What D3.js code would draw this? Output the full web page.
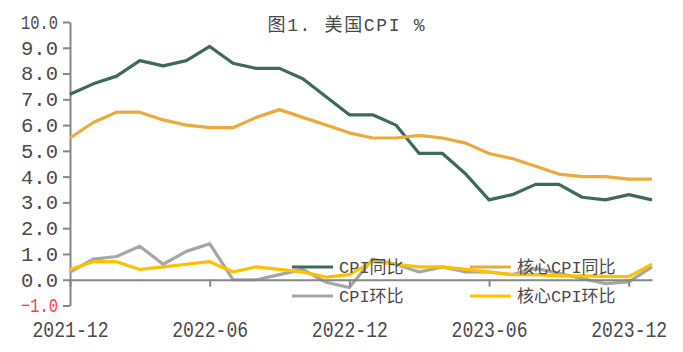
<!DOCTYPE html>
<html><head><meta charset="utf-8">
<script src="https://cdn.jsdelivr.net/npm/d3@7"></script>
<style>body{margin:0;background:#fff}</style>
</head><body>
<svg id="c" width="683" height="352"></svg>
<script>
const months = ["2021-12","2022-01","2022-02","2022-03","2022-04","2022-05","2022-06","2022-07","2022-08","2022-09","2022-10","2022-11","2022-12",
                "2023-01","2023-02","2023-03","2023-04","2023-05","2023-06","2023-07","2023-08","2023-09","2023-10","2023-11","2023-12","2024-01"];
const cpiYoY  = [7.2,7.6,7.9,8.5,8.3,8.5,9.05,8.4,8.2,8.2,7.8,7.1,6.4,6.4,6.0,4.9,4.9,4.1,3.1,3.3,3.7,3.7,3.2,3.1,3.3,3.1];
const coreYoY = [5.5,6.1,6.5,6.5,6.2,6.0,5.9,5.9,6.3,6.6,6.3,6.0,5.7,5.5,5.5,5.6,5.5,5.3,4.9,4.7,4.4,4.1,4.0,4.0,3.9,3.9];
const cpiMoM  = [0.3,0.8,0.9,1.3,0.6,1.1,1.4,0.0,0.0,0.2,0.4,-0.1,-0.3,0.8,0.6,0.3,0.5,0.3,0.3,0.2,0.44,0.25,0.05,-0.15,-0.08,0.5];
const coreMoM = [0.4,0.7,0.7,0.4,0.5,0.6,0.7,0.3,0.5,0.4,0.3,0.1,0.2,0.7,0.6,0.5,0.5,0.4,0.3,0.2,0.2,0.15,0.15,0.13,0.12,0.6];
const xTickLabels = ["2021-12","2022-06","2022-12","2023-06","2023-12"];
const yTicks = [-1,0,1,2,3,4,5,6,7,8,9,10];
const seriesNames = ["CPI同比","核心CPI同比","CPI环比","核心CPI环比"];
const colors = ["#3E6A5B","#EBAA3C","#A6A6A6","#FFC000"];
const title = "图1. 美国CPI %";

const mono = "'Liberation Mono','Noto Sans CJK SC',monospace";
const svg = d3.select("#c");
const x = d3.scalePoint().domain(months).range([70,652]);
const y = d3.scaleLinear().domain([-1,10]).range([305.5,22]);
const axisColor = "#868686", textColor = "#4a4a4a";

// title
svg.append("text").attr("x",346).attr("y",31).attr("text-anchor","middle")
  .attr("font-family",mono).attr("font-size",18).attr("fill",textColor)
  .attr("textLength",157).attr("lengthAdjust","spacing").text(title);

// y axis
const gy = svg.append("g").attr("transform","translate(70,0)")
  .call(d3.axisLeft(y).tickValues(yTicks).tickSize(7).tickSizeOuter(0).tickPadding(5).tickFormat(d3.format(".1f")));
gy.select(".domain").attr("stroke",axisColor).attr("stroke-width",2);
gy.selectAll(".tick line").attr("stroke",axisColor).attr("stroke-width",2);
gy.selectAll(".tick text").attr("font-family",mono).attr("font-size",20)
  .attr("fill",d=>d<0?"#FF3B3B":textColor).attr("textLength",37).attr("lengthAdjust","spacingAndGlyphs");

// lines
const line = d3.line().x((d,i)=>x(months[i])).y(d=>y(d));
[cpiYoY,coreYoY,cpiMoM,coreMoM].forEach((s,k)=>{
  svg.append("path").datum(s).attr("d",line).attr("fill","none")
    .attr("stroke",colors[k]).attr("stroke-width",3.2).attr("stroke-linejoin","round");
});

// zero axis
const gx = svg.append("g").attr("transform",`translate(0,${y(0)})`)
  .call(d3.axisBottom(x).tickValues(xTickLabels).tickSize(7).tickSizeOuter(0).tickFormat(""));
gx.select(".domain").attr("stroke",axisColor).attr("stroke-width",2);
gx.selectAll(".tick line").attr("stroke",axisColor).attr("stroke-width",2);

// x labels at bottom
const gl = svg.append("g").attr("transform",`translate(0,${y(-1)})`)
  .call(d3.axisBottom(x).tickValues(xTickLabels).tickSize(0).tickPadding(16));
gl.select(".domain").remove();
gl.selectAll(".tick text").attr("font-family",mono).attr("font-size",22)
  .attr("fill",textColor).attr("textLength",76).attr("lengthAdjust","spacingAndGlyphs");

// legend
const legX = [292,470], legY = [267,296];
seriesNames.forEach((n,k)=>{
  const lx = legX[k%2], ly = legY[Math.floor(k/2)];
  svg.append("line").attr("x1",lx).attr("x2",lx+41).attr("y1",ly).attr("y2",ly)
    .attr("stroke",colors[k]).attr("stroke-width",3.2);
  svg.append("text").attr("x",lx+47).attr("y",ly).attr("dy","0.35em")
    .attr("font-family",mono).attr("font-size",17).attr("fill",textColor).text(n);
});
</script>
</body></html>
